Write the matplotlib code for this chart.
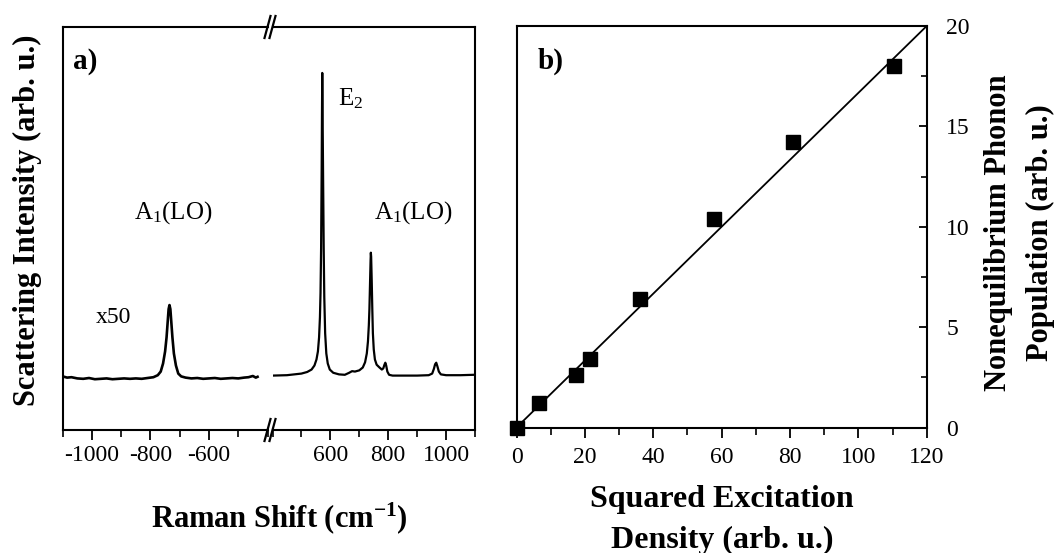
import matplotlib
matplotlib.use("agg")
import matplotlib.pyplot as plt
from matplotlib.ticker import MultipleLocator
import numpy as np

plt.rcParams['font.family'] = ['Liberation Serif', 'DejaVu Serif']
plt.rcParams['mathtext.fontset'] = 'custom'
plt.rcParams['mathtext.rm'] = 'Liberation Serif'
plt.rcParams['mathtext.it'] = 'Liberation Serif:italic'
plt.rcParams['mathtext.bf'] = 'Liberation Serif:bold'

# a) Raman spectrum, anti-Stokes side (x50)
shift_as = [-1095, -1085, -1070, -1050, -1030, -1010, -990, -970, -950, -930, -910,
            -890, -870, -850, -830, -810, -790, -775, -765, -757, -750, -745, -741,
            -738, -735, -732, -729, -725, -720, -713, -705, -695, -680, -660, -640,
            -620, -600, -580, -560, -540, -520, -500, -480, -465, -450, -440, -434]
inten_as = [0.132, 0.130, 0.131, 0.128, 0.127, 0.129, 0.126, 0.127, 0.128, 0.126, 0.127,
            0.128, 0.127, 0.128, 0.127, 0.129, 0.131, 0.136, 0.145, 0.165, 0.195, 0.230, 0.270,
            0.300, 0.310, 0.300, 0.270, 0.230, 0.190, 0.160, 0.140, 0.133, 0.130, 0.128, 0.129,
            0.127, 0.128, 0.129, 0.127, 0.128, 0.129, 0.128, 0.130, 0.131, 0.134, 0.130, 0.132]

# a) Stokes side
shift_s = [400, 450, 500, 520, 535, 545, 552, 557, 561, 564, 566, 568, 570, 571, 572, 573,
           575, 577, 579, 582, 586, 591, 598, 610, 630, 650, 665, 675, 685, 700, 712, 720,
           726, 730, 733, 735, 737, 739, 740, 741, 743, 745, 747, 750, 754, 760, 770, 778,
           783, 787, 790, 793, 797, 803, 815, 850, 900, 940, 952, 958, 962, 966, 970, 975,
           982, 1000, 1050, 1097]
inten_s = [0.135, 0.136, 0.140, 0.144, 0.150, 0.160, 0.175, 0.195, 0.230, 0.280, 0.340,
           0.450, 0.650, 0.780, 0.886, 0.800, 0.620, 0.450, 0.330, 0.240, 0.190, 0.165,
           0.150, 0.142, 0.138, 0.137, 0.142, 0.146, 0.145, 0.148, 0.155, 0.168, 0.190,
           0.220, 0.260, 0.300, 0.360, 0.420, 0.440, 0.430, 0.370, 0.300, 0.240, 0.200,
           0.175, 0.162, 0.155, 0.150, 0.153, 0.162, 0.167, 0.160, 0.145, 0.137, 0.135,
           0.135, 0.135, 0.136, 0.140, 0.152, 0.163, 0.167, 0.158, 0.145, 0.138, 0.136,
           0.136, 0.137]

# b) phonon population vs squared excitation density
exc_sq = [0, 6.5, 17.3, 21.5, 36, 57.7, 81, 110.5]
population = [0, 1.2, 2.6, 3.4, 6.4, 10.4, 14.2, 18.0]
fit_x = [0, 120]
fit_y = [0, 20]

W, H = 1061, 553
fig = plt.figure(figsize=(W / 100, H / 100), dpi=100)


def box(l, t, r, b):
    return [l / W, 1 - b / H, (r - l) / W, (b - t) / H]


axL = fig.add_axes(box(62.7, 27, 267.5, 430))
axR = fig.add_axes(box(272.5, 27, 475, 430))

for ax in (axL, axR):
    ax.set_ylim(0, 1)
    ax.set_yticks([])
    ax.tick_params(axis='x', direction='out', length=7, width=1.3, labelsize=17, pad=4)
    ax.tick_params(axis='x', which='minor', direction='out', length=5, width=1.2)
    for s in ax.spines.values():
        s.set_linewidth(1.5)
    ax.xaxis.set_minor_locator(MultipleLocator(100))

axL.plot(shift_as, inten_as, color='black', lw=1.9)
axL.set_xlim(-1100, -400)
axL.set_xticks([-1000, -800, -600])
axL.set_xticklabels(['-1000', '-800', '-600'])
axL.spines['right'].set_visible(False)

axR.plot(shift_s, inten_s, color='black', lw=1.6)
axR.set_xlim(400, 1100)
axR.set_xticks([600, 800, 1000])
axR.spines['left'].set_visible(False)

# break marks
for ax, xa in ((axL, 1.0), (axR, 0.0)):
    wpx = ax.get_position().width * W
    hpx = ax.get_position().height * H
    dx, dy = 3 / wpx, 11 / hpx
    for ya in (0.0, 1.0):
        ax.plot([xa - dx, xa + dx], [ya - dy, ya + dy], transform=ax.transAxes,
                color='black', lw=1.6, clip_on=False)

axL.text(0.05, 0.915, 'a)', transform=axL.transAxes, fontsize=21, fontweight='bold',
         va='center', ha='left')
axL.text(-925, 0.278, 'x50', fontsize=17, ha='center', va='center')
axL.text(-855, 0.54, r'A$_{\mathrm{1}}$(LO)', fontsize=18, ha='left', va='center')
axR.text(627, 0.823, r'E$_{\mathrm{2}}$', fontsize=18, ha='left', va='center')
axR.text(750, 0.54, r'A$_{\mathrm{1}}$(LO)', fontsize=18, ha='left', va='center')

fig.text(279 / W, 1 - 518 / H, r'Raman Shift (cm$^{\mathbf{-1}}$)', fontsize=22,
         fontweight='bold', ha='center', va='center')
fig.text(27 / W, 1 - 220 / H, 'Scattering Intensity (arb. u.)', fontsize=22,
         fontweight='bold', ha='center', va='center', rotation=90)

# panel b
axB = fig.add_axes(box(516.5, 26, 926.7, 427.5))
axB.plot(fit_x, fit_y, color='black', lw=1.3)
axB.plot(exc_sq, population, 's', color='black', markersize=10, clip_on=False)
axB.set_xlim(0, 120)
axB.set_ylim(0, 20)
axB.xaxis.set_major_locator(MultipleLocator(20))
axB.xaxis.set_minor_locator(MultipleLocator(10))
axB.yaxis.set_major_locator(MultipleLocator(5))
axB.yaxis.set_minor_locator(MultipleLocator(2.5))
axB.yaxis.tick_right()
axB.tick_params(axis='x', which='major', direction='out', length=7, width=1.3,
                labelsize=17, pad=7)
axB.tick_params(axis='x', which='minor', direction='out', length=5, width=1.2)
axB.tick_params(axis='y', which='major', direction='in', length=6, width=1.3,
                labelsize=17, pad=14)
axB.tick_params(axis='y', which='minor', direction='in', length=4, width=1.2)
for s in axB.spines.values():
    s.set_linewidth(1.5)
axB.text(0.052, 0.911, 'b)', transform=axB.transAxes, fontsize=21, fontweight='bold',
         va='center', ha='left')

fig.text(722 / W, 1 - 500 / H, 'Squared Excitation', fontsize=23, fontweight='bold',
         ha='center', va='center')
fig.text(722 / W, 1 - 540 / H, 'Density (arb. u.)', fontsize=23, fontweight='bold',
         ha='center', va='center')
fig.text(998 / W, 1 - 233 / H, 'Nonequilibrium Phonon', fontsize=22, fontweight='bold',
         ha='center', va='center', rotation=90)
fig.text(1040 / W, 1 - 233 / H, 'Population (arb. u.)', fontsize=22, fontweight='bold',
         ha='center', va='center', rotation=90)

fig.savefig('out.png', dpi=100)
